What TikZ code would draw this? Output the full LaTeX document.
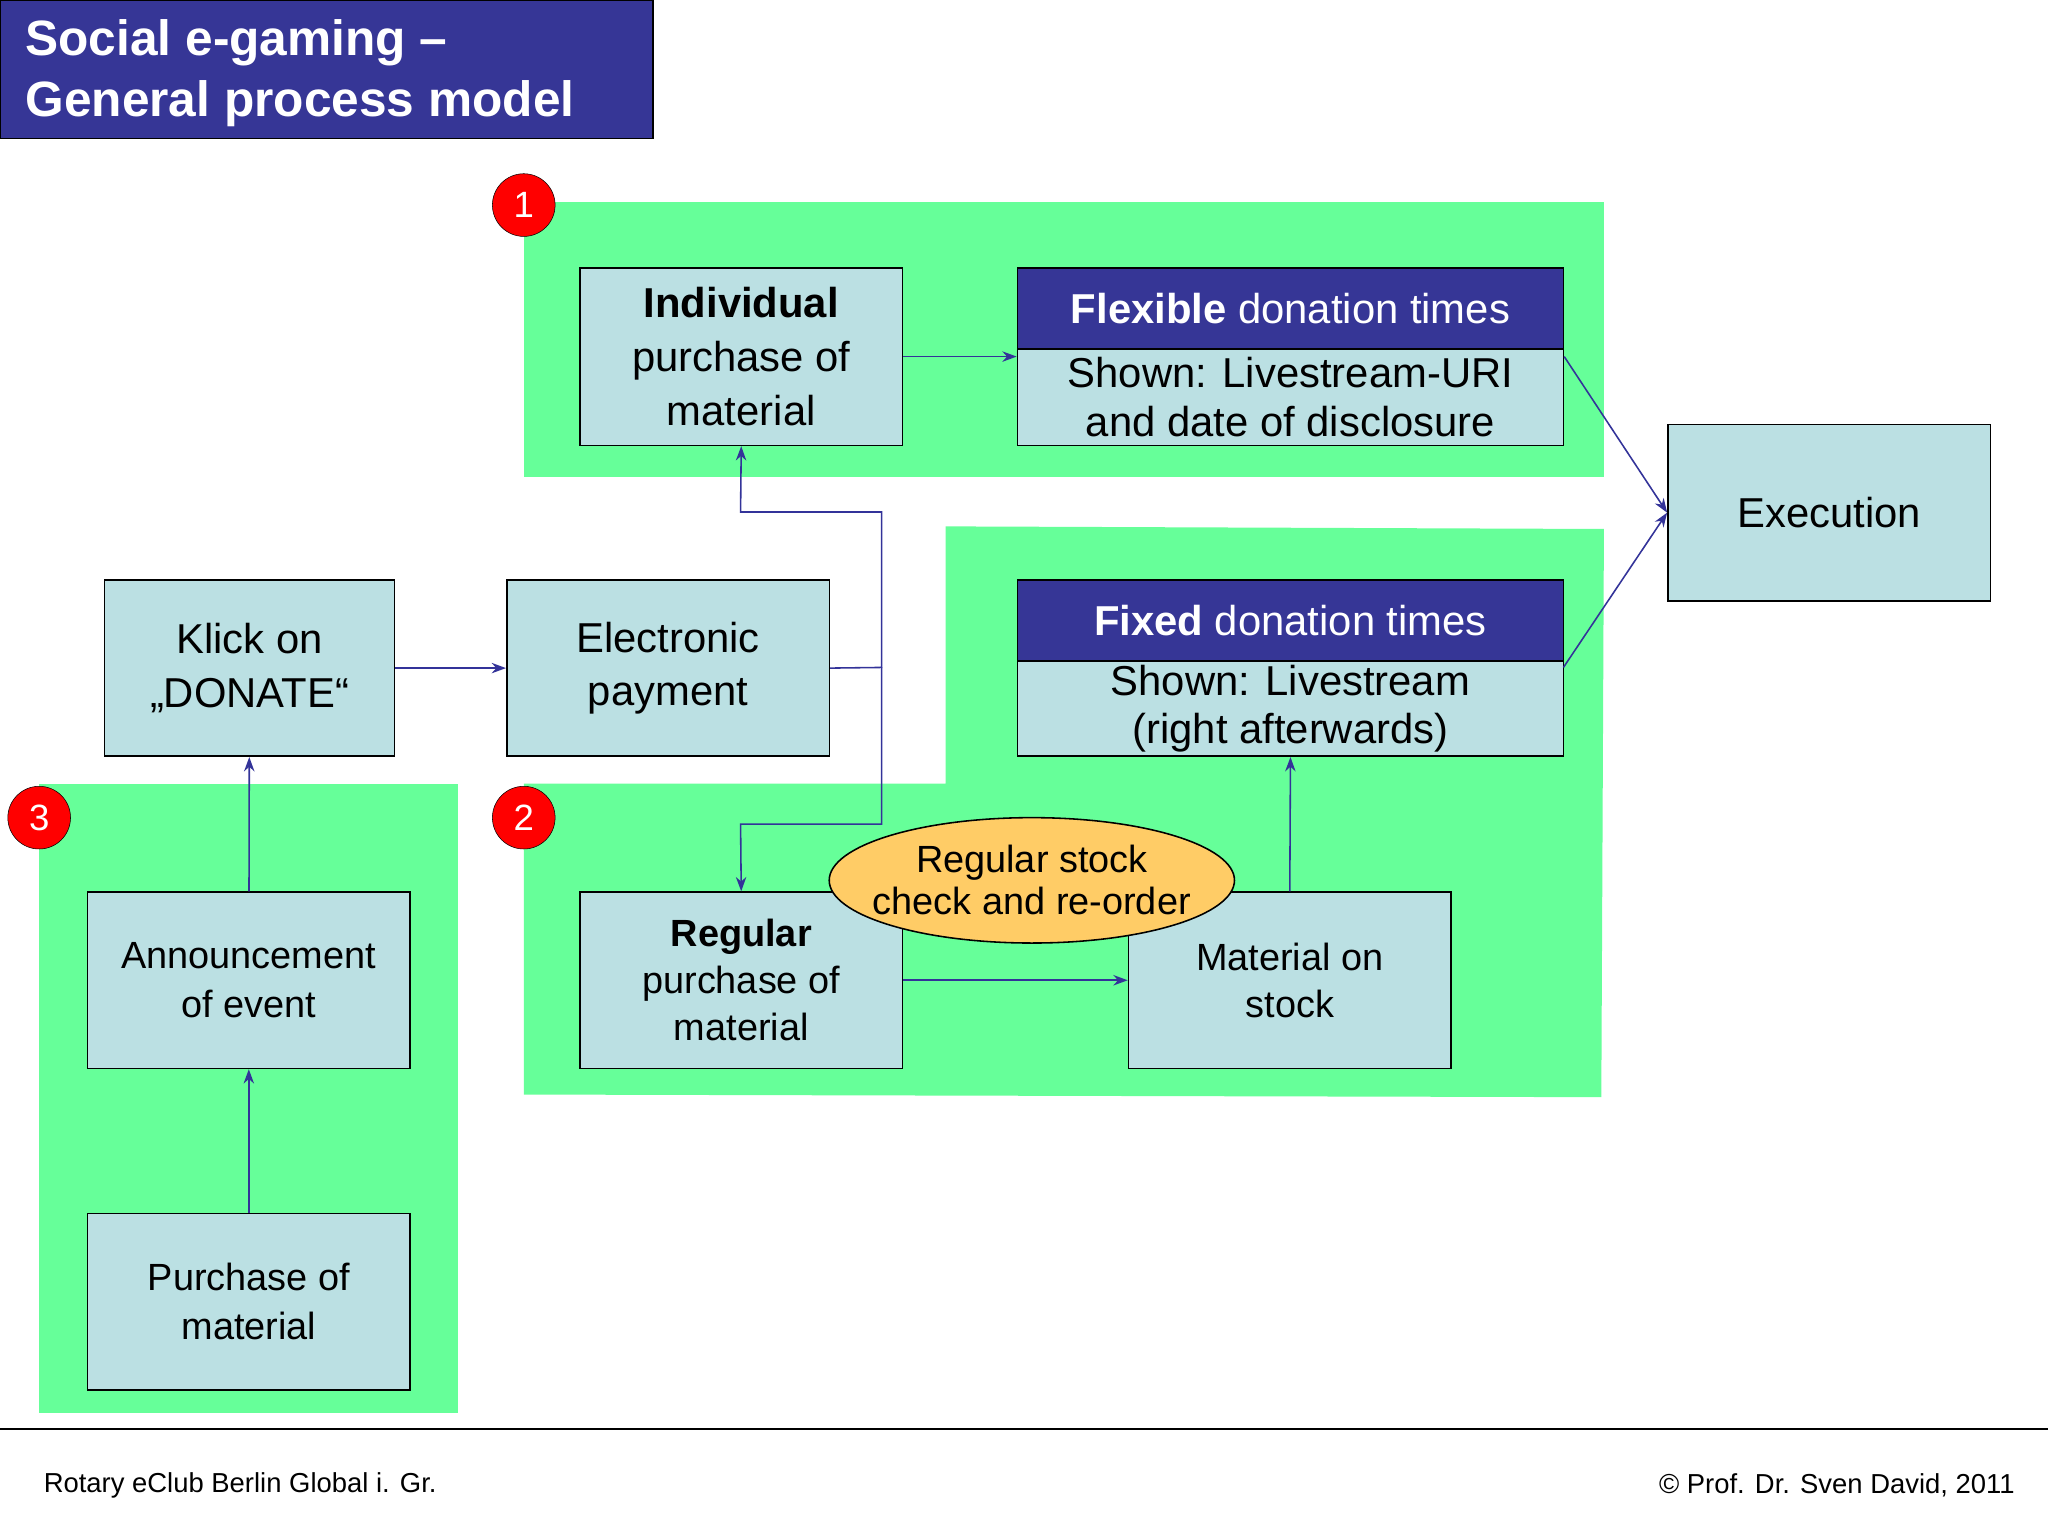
\documentclass[tikz,border=0pt]{standalone}
\usepackage{fontspec}
\setmainfont{Liberation Sans}
\usetikzlibrary{arrows.meta,shapes.geometric}
\definecolor{dblue}{HTML}{363696}
\definecolor{lblue}{HTML}{BBE0E3}
\definecolor{green}{HTML}{66FF99}
\definecolor{orng}{HTML}{FFCC66}
\definecolor{ln}{HTML}{333399}
\tikzset{
 box/.style={draw=black,line width=1.2pt,fill=lblue,align=center,inner sep=0,font=\fontsize{32}{38}\selectfont},
 hdr/.style={draw=black,line width=1.2pt,fill=dblue,text=white,align=center,inner sep=0,font=\fontsize{32}{38}\selectfont},
 num/.style={circle,draw=black,fill=red,text=white,minimum size=48pt,inner sep=0,font=\fontsize{28}{30}\selectfont},
 arr/.style={draw=ln,line width=1.2pt,-{Stealth[length=11pt,width=8pt]}},
 reg/.style={fill=green,draw=none}
}
\begin{document}
\begin{tikzpicture}[x=1pt,y=-1pt]
\useasboundingbox (0,0) rectangle (1568,1176);
\fill[white] (0,0) rectangle (1568,1176);
% title
\node[fill=dblue,draw=black,line width=1pt,minimum width=500pt,minimum height=106pt,inner sep=0] (title) at (250,53) {};
\node[text=white,anchor=west,align=left,font=\fontsize{38}{47}\selectfont\bfseries] (tt) at (16,56) {Social e-gaming –\\General process model};
% green regions
\fill[reg] (401,155) rectangle (1228,365);
\fill[reg] (401,600) -- (724,600) -- (724,403) -- (1228,405) -- (1226,840) -- (401,838) -- cycle;
\fill[reg] (30,600) rectangle (351,1082);
\node[num] (n1) at (401,157) {1};
\node[num] (n2) at (401,626) {2};
\node[num] (n3) at (30,626) {3};
% boxes
\node[box,minimum width=247pt,minimum height=136pt,font=\fontsize{32}{41}\selectfont] (ind) at (567.5,273) {\textbf{Individual}\\purchase of\\material};
\node[hdr,minimum width=418pt,minimum height=62pt] (flexh) at (988,236) {\textbf{Flexible} donation times};
\node[box,minimum width=418pt,minimum height=74pt,font=\fontsize{32}{37}\selectfont] (flex) at (988,304) {Shown: Livestream-URI\\and date of disclosure};
\node[box,minimum width=247pt,minimum height=135pt] (exe) at (1400.5,392.5) {Execution};
\node[box,minimum width=222pt,minimum height=135pt,font=\fontsize{32}{41}\selectfont] (klick) at (191,511.5) {Klick on\\„DONATE“};
\node[box,minimum width=247pt,minimum height=135pt,font=\fontsize{32}{41}\selectfont] (epay) at (511.5,511.5) {Electronic\\payment};
\node[hdr,minimum width=418pt,minimum height=62pt] (fixh) at (988,475) {\textbf{Fixed} donation times};
\node[box,minimum width=418pt,minimum height=73pt,font=\fontsize{32}{37}\selectfont] (fix) at (988,542.5) {Shown: Livestream\\(right afterwards)};
\node[box,minimum width=247pt,minimum height=135pt,font=\fontsize{29}{36}\selectfont] (regp) at (567.5,750.5) {\textbf{Regular}\\purchase of\\material};
\node[box,minimum width=247pt,minimum height=135pt,font=\fontsize{29}{36}\selectfont] (stock) at (987.5,750.5) {Material on\\stock};
\node[ellipse,draw=black,line width=1.2pt,fill=orng,minimum width=308pt,minimum height=96pt,inner sep=-12pt,align=center,font=\fontsize{29}{32}\selectfont] (ell) at (790,674) {Regular stock\\check and re-order};
\node[box,minimum width=247pt,minimum height=135pt,font=\fontsize{29}{37}\selectfont] (ann) at (190.5,750.5) {Announcement\\of event};
\node[box,minimum width=247pt,minimum height=135pt,font=\fontsize{29}{37}\selectfont] (pur) at (190.5,996.5) {Purchase of\\material};
% connectors
\coordinate (j) at (675,511);
\coordinate (fxe) at (1197,511);
\draw[arr] (ind.east) -- (flex.west|-ind.east);
\draw[arr] (klick) -- (epay);
\draw[arr] (epay.east) -- (j) -- (675,392) -- (567,392) -- (ind.south);
\draw[arr] (j) -- (675,631) -- (567,631) -- (regp.north);
\draw[arr] (regp.east) -- (stock.west);
\draw[arr] (stock.north) -- (fix.south);
\draw[arr] (flex.east|-ind.east) -- (exe.west);
\draw[arr] (fxe) -- (exe.west);
\draw[arr] (ann) -- (klick);
\draw[arr] (pur) -- (ann);
% footer
\draw[line width=1.2pt] (0,1094) -- (1568,1094);
\node[anchor=west,font=\fontsize{21}{24}\selectfont] (f1) at (30,1137) {Rotary eClub Berlin Global i. Gr.};
\node[anchor=east,font=\fontsize{21}{24}\selectfont] (f2) at (1546,1137) {© Prof. Dr. Sven David, 2011};
\end{tikzpicture}
\end{document}
